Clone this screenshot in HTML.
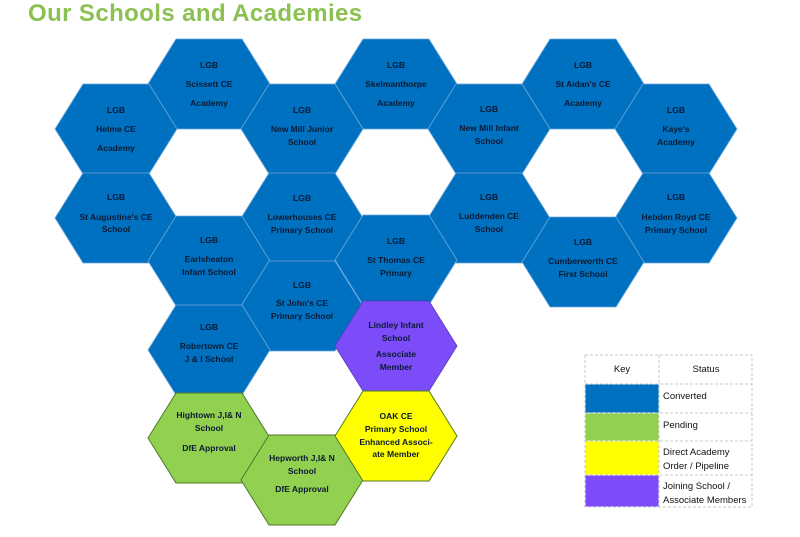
<!DOCTYPE html>
<html><head><meta charset="utf-8"><style>
body{margin:0;background:#fff;width:800px;height:537px;overflow:hidden}
svg{display:block}
.t{font-family:"Liberation Sans",sans-serif;font-size:8.5px;font-weight:bold;fill:#0b1a33;text-anchor:middle}
.k{font-family:"Liberation Sans",sans-serif;font-size:9.5px;fill:#111}
</style></head><body>
<svg width="800" height="537" viewBox="0 0 800 537">
<defs><polygon id="h" points="-61,0 -33,-45 33,-45 61,0 33,45 -33,45"/></defs>
<text x="28" y="21" font-family="Liberation Sans,sans-serif" font-weight="bold" font-size="24" letter-spacing="0.4" fill="#8cc152">Our Schools and Academies</text>
<g stroke="#6fa8dc" stroke-width="0.8" fill="#0070c0">
<use href="#h" x="209" y="84"/><use href="#h" x="396" y="84"/><use href="#h" x="583" y="84"/>
<use href="#h" x="116" y="129"/><use href="#h" x="302" y="129"/><use href="#h" x="489" y="129"/><use href="#h" x="676" y="129"/>
<use href="#h" x="116" y="218"/><use href="#h" x="302" y="218"/><use href="#h" x="489" y="218"/><use href="#h" x="676" y="218"/>
<use href="#h" x="209" y="261"/><use href="#h" x="396" y="260"/><use href="#h" x="583" y="262"/>
<use href="#h" x="302" y="306"/><use href="#h" x="209" y="350"/>
</g>
<use href="#h" x="396" y="346" fill="#7b4cf8" stroke="#5a3ab8" stroke-width="0.8"/>
<use href="#h" x="209" y="438" fill="#92d050" stroke="#4e7a2a" stroke-width="1"/>
<use href="#h" x="302" y="480" fill="#92d050" stroke="#4e7a2a" stroke-width="1"/>
<use href="#h" x="396" y="436" fill="#ffff00" stroke="#4e7a2a" stroke-width="1"/>
<g class="t">
<text x="209" y="68" class="t">LGB</text><text x="209" y="87" class="t">Scissett CE</text><text x="209" y="106" class="t">Academy</text>
<text x="396" y="68" class="t">LGB</text><text x="396" y="87" class="t">Skelmanthorpe</text><text x="396" y="106" class="t">Academy</text>
<text x="583" y="68" class="t">LGB</text><text x="583" y="87" class="t">St Aidan's CE</text><text x="583" y="106" class="t">Academy</text>
<text x="116" y="113" class="t">LGB</text><text x="116" y="132" class="t">Helme CE</text><text x="116" y="151" class="t">Academy</text>
<text x="302" y="113" class="t">LGB</text><text x="302" y="132" class="t">New Mill Junior</text><text x="302" y="145" class="t">School</text>
<text x="489" y="112" class="t">LGB</text><text x="489" y="131" class="t">New Mill Infant</text><text x="489" y="144" class="t">School</text>
<text x="676" y="113" class="t">LGB</text><text x="676" y="132" class="t">Kaye's</text><text x="676" y="145" class="t">Academy</text>
<text x="116" y="200" class="t">LGB</text><text x="116" y="220" class="t">St Augustine's CE</text><text x="116" y="232" class="t">School</text>
<text x="302" y="201" class="t">LGB</text><text x="302" y="220" class="t">Lowerhouses CE</text><text x="302" y="233" class="t">Primary School</text>
<text x="489" y="200" class="t">LGB</text><text x="489" y="219" class="t">Luddenden CE</text><text x="489" y="232" class="t">School</text>
<text x="676" y="200" class="t">LGB</text><text x="676" y="220" class="t">Hebden Royd CE</text><text x="676" y="233" class="t">Primary School</text>
<text x="209" y="243" class="t">LGB</text><text x="209" y="262" class="t">Earlsheaton</text><text x="209" y="275" class="t">Infant School</text>
<text x="396" y="244" class="t">LGB</text><text x="396" y="263" class="t">St Thomas CE</text><text x="396" y="276" class="t">Primary</text>
<text x="583" y="245" class="t">LGB</text><text x="583" y="264" class="t">Cumberworth CE</text><text x="583" y="277" class="t">First School</text>
<text x="302" y="288" class="t">LGB</text><text x="302" y="306" class="t">St John's CE</text><text x="302" y="319" class="t">Primary School</text>
<text x="209" y="330" class="t">LGB</text><text x="209" y="349" class="t">Robertown CE</text><text x="209" y="362" class="t">J &amp; I  School</text>
<text x="396" y="328" class="t">Lindley Infant</text><text x="396" y="341" class="t">School</text><text x="396" y="357" class="t">Associate</text><text x="396" y="370" class="t">Member</text>
<text x="209" y="418" class="t">Hightown J,I&amp; N</text><text x="209" y="431" class="t">School</text><text x="209" y="451" class="t">DfE  Approval</text>
<text x="302" y="461" class="t">Hepworth J,I&amp; N</text><text x="302" y="474" class="t">School</text><text x="302" y="492" class="t">DfE  Approval</text>
<text x="396" y="419" class="t">OAK CE</text><text x="396" y="432" class="t">Primary School</text><text x="396" y="445" class="t">Enhanced Associ-</text><text x="396" y="457" class="t">ate Member</text>
</g>
<g stroke="#bbb" stroke-dasharray="3,2" stroke-width="0.8" fill="none">
<rect x="585" y="355" width="167" height="152"/>
<line x1="659" y1="355" x2="659" y2="507"/>
<line x1="585" y1="384" x2="752" y2="384"/><line x1="585" y1="413" x2="752" y2="413"/>
<line x1="585" y1="441" x2="752" y2="441"/><line x1="585" y1="475" x2="752" y2="475"/>
</g>
<rect x="585.5" y="384.5" width="73" height="28" fill="#0070c0"/>
<rect x="585.5" y="413.5" width="73" height="27" fill="#92d050"/>
<rect x="585.5" y="441.5" width="73" height="33" fill="#ffff00"/>
<rect x="585.5" y="475.5" width="73" height="31" fill="#7b4cf8"/>
<text x="622" y="372" class="k" font-size="11" text-anchor="middle">Key</text>
<text x="706" y="372" class="k" font-size="11" text-anchor="middle">Status</text>
<text x="663" y="399" class="k">Converted</text>
<text x="663" y="428" class="k">Pending</text>
<text x="663" y="455" class="k">Direct Academy</text><text x="663" y="469" class="k">Order / Pipeline</text>
<text x="663" y="489" class="k">Joining School /</text><text x="663" y="503" class="k">Associate Members</text>
</svg>
</body></html>
